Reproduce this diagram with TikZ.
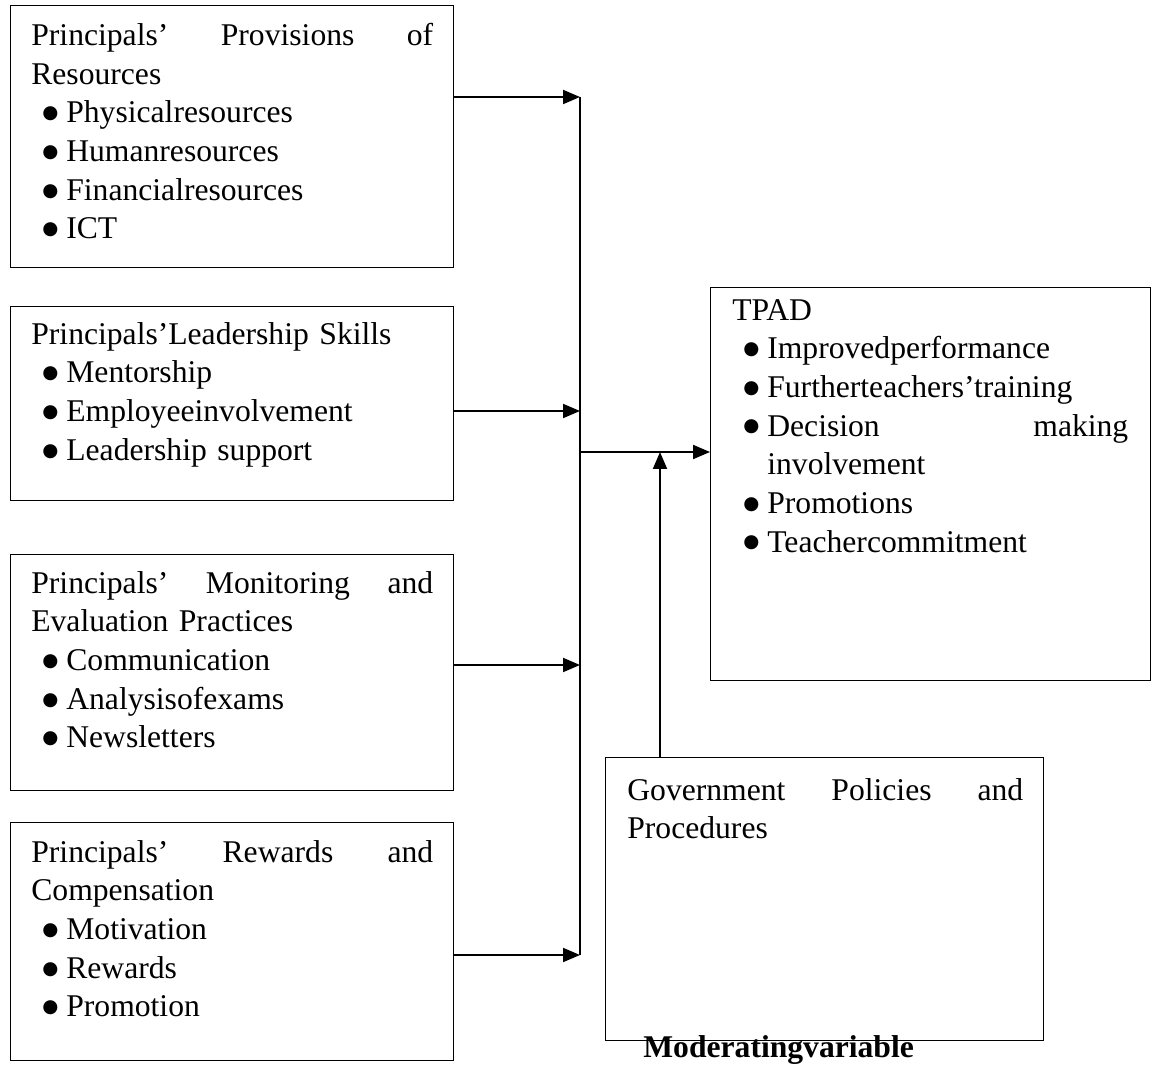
\documentclass[tikz,border=0pt]{standalone}
\usepackage{fontspec}
\setmainfont{Liberation Serif}
\newfontfamily\symfont{DejaVu Sans}
\usepackage{tikz}
\usetikzlibrary{arrows.meta,positioning,calc}

\newcommand{\bdot}{\raisebox{2.4pt}{\symfont\fontsize{10.5}{10.5}\selectfont ●}}
\newcommand{\bitem}[1]{\hspace*{0.22cm}\makebox[0.48cm][l]{\bdot}#1}
\newcommand{\bcont}{\hspace*{0.70cm}}

\tikzset{
  box/.style={draw, line width=0.8pt, anchor=north west, inner sep=0pt},
  txt/.style={anchor=north west, inner sep=0pt, align=left,
    font=\fontsize{18}{22}\selectfont},
  link/.style={line width=1.1pt},
  arr/.style={line width=1.1pt, -{Triangle[length=0.34cm, width=0.28cm]}}
}

\begin{document}
\begin{tikzpicture}[x=0.02cm, y=-0.02cm]
		\useasboundingbox (0,0) rectangle (1156,1074);

		% input boxes
		\node[box, minimum width=8.86cm, minimum height=5.24cm] (p1) at (10,5) {};
		\node[box, minimum width=8.86cm, minimum height=3.88cm] (p2) at (10,306) {};
		\node[box, minimum width=8.86cm, minimum height=4.72cm] (p3) at (10,554) {};
		\node[box, minimum width=8.86cm, minimum height=4.76cm] (p4) at (10,822) {};

		\node[txt, text width=8.04cm] (p1t) at (31,23) {
			Principals’\hfill Provisions\hfill of\\
			Resources\\
			\bitem{Physicalresources}\\
			\bitem{Humanresources}\\
			\bitem{Financialresources}\\
			\bitem{ICT}};
		\node[txt, text width=8.04cm] (p2t) at (31,322) {
			Principals’Leadership Skills\\
			\bitem{Mentorship}\\
			\bitem{Employeeinvolvement}\\
			\bitem{Leadership support}};
		\node[txt, text width=8.04cm] (p3t) at (31,571) {
			Principals’\hfill Monitoring\hfill and\\
			Evaluation Practices\\
			\bitem{Communication}\\
			\bitem{Analysisofexams}\\
			\bitem{Newsletters}};
		\node[txt, text width=8.04cm] (p4t) at (31,840) {
			Principals’\hfill Rewards\hfill and\\
			Compensation\\
			\bitem{Motivation}\\
			\bitem{Rewards}\\
			\bitem{Promotion}};

		% outcome and moderator
		\node[box, minimum width=8.8cm, minimum height=7.86cm] (tpad) at (710,287) {};
		\node[txt, text width=7.92cm] (tpadt) at (732,299) {
			TPAD\\
			\bitem{Improvedperformance}\\
			\bitem{Furtherteachers’training}\\
			\bitem{Decision\hfill making}\\
			\bcont involvement\\
			\bitem{Promotions}\\
			\bitem{Teachercommitment}};

		\node[box, minimum width=8.76cm, minimum height=5.66cm] (gov) at (605,757) {};
		\node[txt, text width=7.92cm] (govt) at (627,778) {
			Government\hfill Policies\hfill and\\
			Procedures};
		\node[anchor=base west, inner sep=0pt, font=\fontsize{18}{22}\selectfont\bfseries] (mod) at (643,1057) {Moderatingvariable};

		% connectors
		\coordinate (bus1) at (580,97);
		\coordinate (bus2) at (580,411);
		\coordinate (bus3) at (580,665);
		\coordinate (bus4) at (580,955);
		\coordinate (busmid) at (580,452);
		\coordinate (join) at (660,452);

		\draw[link] (bus1) -- (bus4);
		\draw[arr] (p1.east |- bus1) -- (bus1);
		\draw[arr] (p2.east |- bus2) -- (bus2);
		\draw[arr] (p3.east |- bus3) -- (bus3);
		\draw[arr] (p4.east |- bus4) -- (bus4);
		\draw[arr] (busmid) -- (tpad.west |- busmid);
		\draw[arr] (gov.north -| join) -- (join);
	\end{tikzpicture}
\end{document}
